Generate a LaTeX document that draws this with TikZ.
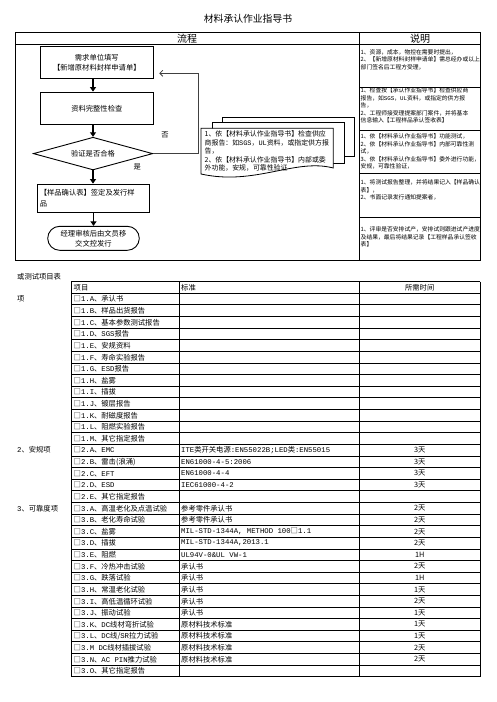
\documentclass[tikz,border=0pt]{standalone}
\usepackage{fontspec}
\setmainfont{Noto Sans CJK SC}
\newfontfamily\lat{Liberation Mono}
\usetikzlibrary{arrows.meta,positioning,calc,shapes.geometric}
\colorlet{cline}{black}
\colorlet{cback}{black!75}

\begin{document}
\begin{tikzpicture}[x=1pt, y=-1pt,
  flowbox/.style={draw=cline, line width=0.9pt, minimum width=113pt, inner sep=0pt, font=\fontsize{7.3}{10}\selectfont, align=center},
  down/.style={line width=1.4pt, -{Triangle[length=4.5pt,width=6pt]}},
  backarrow/.style={cback, line width=0.8pt, -{Straight Barb[length=3pt,width=6pt]}},
  note/.style={anchor=north west, inner sep=0pt, text width=122pt, align=left, font=\fontsize{5.8}{7.4}\selectfont},
  cell/.style={anchor=west, inner sep=0pt, font=\fontsize{7.3}{8}\selectfont}]
\useasboundingbox (0,0) rectangle (496,702);

% title and frame
\node[font=\fontsize{9.8}{10}\selectfont] (title) at (248,19) {材料承认作业指导书};
\draw[line width=0.9pt] (15.3,32.3) rectangle (480.3,260);
\draw[line width=0.9pt] (15.3,44.3) -- (480.3,44.3);
\draw[line width=0.9pt] (359.3,32.3) -- (359.3,260);
\foreach \y in {87.3,130.7,173.3,217.3}
  \draw[line width=0.9pt] (359.3,\y) -- (480.3,\y);
\node[font=\fontsize{10}{10}\selectfont] (flowhd) at (187,38.3) {流程};
\node[font=\fontsize{10}{10}\selectfont] (notehd) at (420,38.3) {说明};

% flow
\node[flowbox, minimum height=32.4pt] (req) at (96.8,62.5) {需求单位填写\\【新增原材料封样申请单】};
\node[flowbox, minimum height=32.7pt] (check) at (96.8,108.4) {资料完整性检查};
\node[diamond, draw=cline, line width=0.9pt, shape aspect=3.6, minimum width=119.4pt, minimum height=32.7pt, inner sep=0pt, font=\fontsize{7.3}{10}\selectfont] (verify) at (93,153.6) {验证是否合格};
\node[flowbox, minimum width=112pt, minimum height=28.3pt, text width=107pt, align=left, font=\fontsize{7.3}{11.5}\selectfont] (confirm) at (93.3,198.2) {【样品确认表】签定及发行样\\品};
\node[draw=cline, line width=0.9pt, rounded corners=12pt, minimum width=91.6pt, minimum height=24pt, inner sep=0pt, align=center, font=\fontsize{7.3}{10}\selectfont] (release) at (93.5,238.3) {经理审核后由文员移\\交文控发行};

\draw[down] (req.south -| verify) -- (check.north -| verify);
\draw[down] (check.south -| verify) -- (verify.north);
\draw[down] (verify.south) -- (verify.south |- confirm.north);
\draw[down] (confirm.south -| release) -- (release.north);

\coordinate (turn) at (198.3,153.6);
\coordinate (back) at (159.3,73.3);
\draw[backarrow] (verify.east) -- (turn) |- (back);
\node[font=\fontsize{7.3}{8}\selectfont] (no) at (165,135) {否};
\node[font=\fontsize{7.3}{8}\selectfont] (yes) at (137.3,166.7) {是};

% stacked documents
\filldraw[fill=white, line width=0.8pt] (222.7,117.3) rectangle (354,156.7);
\filldraw[fill=white, line width=0.8pt] (212.3,122.7) rectangle (344,163.3);
\filldraw[fill=white, line width=0.8pt] (201,128.3) -- (333.3,128.3) -- (333.3,168) .. controls (295,158) and (255,186) .. (201,174) -- cycle;
\node[anchor=north west, inner sep=0pt, text width=130pt, align=left, font=\fontsize{6.9}{8.5}\selectfont] (docs) at (204.5,130.5) {1、依【材料承认作业指导书】检查供应\\商报告：如{\lat SGS}，{\lat UL}资料，或指定供方报\\告，\\2、依【材料承认作业指导书】内部或委\\外功能，安规，可靠性验证};

% notes
\node[note] (n1) at (360.5,49.5) {1、资源，成本，物控在需要时提出，\\2、【新增原材料封样申请单】需总经办或以上\\部门签名后工程方受理，};
\node[note] (n2) at (360.5,87.8) {1、检查按【承认作业指导书】检查供应商\\报告，如{\lat SGS}，{\lat UL}资料，或指定的供方报\\告，\\2、工程师接受理提案部门案件，并将基本\\信息输入【工程样品承认签收表】};
\node[note] (n3) at (360.5,133.8) {1、依【材料承认作业指导书】功能测试，\\2、依【材料承认作业指导书】内部可靠性测\\试，\\3、依【材料承认作业指导书】委外进行功能，\\安规，可靠性验证，};
\node[note] (n4) at (360.5,179.8) {1、将测试报告整理，并将结果记入【样品确认\\表】，\\2、书面记录发行通知提案者，};
\node[note] (n5) at (360.5,226.5) {1、评审是否安排试产，安排试则跟进试产进度\\及结果，最后将结果记录【工程样品承认签收\\表】};

% test item table
\node[cell] (lead) at (17,276.7) {或测试项目表};
\node[cell] (sec1) at (17,299.1) {项};
\node[cell] (sec2) at (17,450.2) {{\lat 2}、安规项};
\node[cell] (sec3) at (17,508.3) {{\lat 3}、可靠度项};
\foreach \i in {0,...,34}
  \draw[line width=0.9pt] (71,{281.7+11.62*\i}) -- (480,{281.7+11.62*\i});
\foreach \x in {71,179.3,359.3,480}
  \draw[line width=0.9pt] (\x,281.7) -- (\x,676.8);
\node[cell] (hd1) at (73.5,287.5) {项目};
\node[cell] (hd2) at (181,287.5) {标准};
\node[cell, anchor=center] (hd3) at (419.7,287.5) {所需时间};
\foreach \cd/\nm/\sd/\dy [count=\i] in {
  1.A/、承认书//, 1.B/、样品出货报告//, 1.C/、基本参数测试报告//,
  1.D/、{\lat SGS}报告//, 1.E/、安规资料//, 1.F/、寿命实验报告//,
  1.G/、{\lat ESD}报告//, 1.H/、盐雾//, 1.I/、插拔//, 1.J/、镀层报告//,
  1.K/、耐磁度报告//, 1.L/、阻燃实验报告//, 1.M/、其它指定报告//,
  2.A/、{\lat EMC}/{\lat ITE}类开关电源{\lat :EN55022B;LED}类{\lat :EN55015}/3天,
  2.B/、雷击(浪涌)/{\lat EN61000-4-5:2006}/3天,
  2.C/、{\lat EFT}/{\lat EN61000-4-4}/3天,
  2.D/、{\lat ESD}/{\lat IEC61000-4-2}/3天,
  2.E/、其它指定报告//,
  3.A/、高温老化及点温试验/参考零件承认书/2天,
  3.B/、老化寿命试验/参考零件承认书/2天,
  3.C/、盐雾/{{\lat MIL-STD-1344A, METHOD 100}□{\lat 1.1}}/2天,
  3.D/、插拔/{\lat MIL-STD-1344A,2013.1}/2天,
  3.E/、阻燃/{\lat UL94V-0\&UL VW-1}/1H,
  3.F/、冷热冲击试验/承认书/2天,
  3.G/、跌落试验/承认书/1H,
  3.H/、常温老化试验/承认书/1天,
  3.I/、高低温循环试验/承认书/2天,
  3.J/、振动试验/承认书/1天,
  3.K/、{\lat DC}线材弯折试验/原材料技术标准/1天,
  3.L/{、{\lat DC}线/{\lat SR}拉力试验}/原材料技术标准/1天,
  3.M/{{\lat\ DC}线材插拔试验}/原材料技术标准/2天,
  3.N/、{\lat AC PIN}推力试验/原材料技术标准/2天,
  3.O/、其它指定报告//}
{
  \node[cell] (it\i) at (73.5,{281.7+11.62*(\i+0.5)}) {□{\lat\cd}\nm};
  \node[cell] (st\i) at (181,{281.7+11.62*(\i+0.5)}) {\sd};
  \node[cell, anchor=center] (tm\i) at (419.7,{281.7+11.62*(\i+0.5)}) {\dy};
}
\end{tikzpicture}
\end{document}
